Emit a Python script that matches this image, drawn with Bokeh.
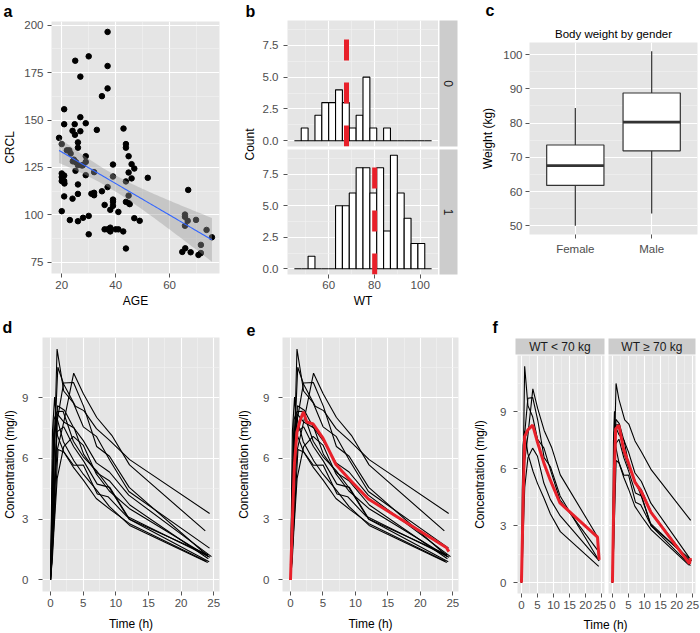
import numpy as np
from bokeh.plotting import figure
from bokeh.layouts import row, column
from bokeh.models import Range1d, FactorRange, FixedTicker, Grid, PrintfTickFormatter
from bokeh.embed import file_html
from bokeh.resources import INLINE
from bokeh.core.properties import value

# ---------------- data ----------------
# panel a: creatinine clearance vs age
AGE = [19.0, 20.0, 20.9, 20.9, 21.9, 22.8, 23.3, 20.0, 20.0, 20.9, 20.0, 20.9, 21.0, 20.9, 20.0,
       23.0, 24.0, 24.0, 24.8, 24.9, 24.1, 24.8, 25.1, 25.0, 26.0, 26.0, 26.0, 26.0, 26.0, 26.0,
       26.9, 26.9, 26.9, 27.9, 27.9, 28.9, 28.9, 28.9, 28.9, 30.0, 30.0, 30.0, 31.0, 32.0, 32.0,
       32.0, 33.0, 34.9, 34.9, 35.9, 35.9, 37.0, 37.0, 37.0, 37.0, 37.0, 38.0, 38.0, 38.0, 39.0,
       39.0, 39.0, 39.0, 39.0, 40.0, 41.0, 41.0, 42.8, 42.9, 43.8, 43.8, 43.8, 43.8, 43.8, 44.8,
       44.8, 44.8, 44.8, 45.9, 45.9, 46.9, 46.9, 48.9, 51.9, 64.7, 65.7, 65.7, 65.7, 65.8, 66.7,
       66.9, 67.8, 69.8, 70.7, 71.6, 71.6, 73.7, 75.7, 25.3, 27.5, 24.5, 45.2]
CRCL = [140.6, 137.3, 155.7, 147.8, 134.0, 134.0, 132.3, 121.8, 119.9, 120.7, 117.8, 117.8, 116.5, 109.7, 101.9,
        97.2, 108.5, 144.3, 147.8, 142.2, 128.2, 128.2, 123.2, 181.3, 138.2, 135.4, 126.2, 116.0, 111.0, 96.6,
        172.9, 151.5, 144.1, 126.2, 98.4, 148.3, 130.9, 127.9, 120.9, 183.6, 99.4, 89.7, 111.1, 122.5, 111.6,
        110.3, 144.8, 162.6, 112.4, 105.2, 92.3, 196.5, 178.5, 166.7, 114.6, 92.3, 102.6, 93.2, 91.2, 126.5,
        120.2, 108.0, 106.8, 104.7, 92.3, 92.3, 101.5, 91.2, 145.5, 137.3, 135.4, 117.6, 106.8, 82.2, 130.9,
        122.3, 110.1, 106.2, 126.7, 119.2, 124.4, 98.2, 96.8, 119.5, 80.4, 100.1, 98.9, 94.2, 82.3, 96.8,
        113.1, 80.2, 97.3, 78.8, 84.1, 79.8, 92.0, 88.1, 127.7, 126.0, 129.1, 105.6]

# panel b: weight histogram by sex
WT_BIN_LEFT = [45, 48, 51, 54, 57, 60, 63, 66, 69, 72, 75, 78, 81, 84, 87, 90, 93, 96, 99, 102]
WT_BIN_RIGHT = [48, 51, 54, 57, 60, 63, 66, 69, 72, 75, 78, 81, 84, 87, 90, 93, 96, 99, 102, 105]
COUNT_SEX0 = [0, 1, 0, 2, 3, 3, 4, 3, 1, 2, 5, 1, 0, 1, 0, 0, 0, 0, 0, 0]
COUNT_SEX1 = [0, 0, 1, 0, 0, 0, 5, 5, 6, 8, 8, 6, 8, 3, 9, 6, 4, 2, 2, 0]
SEX_LABELS = ["0", "1"]
SEX_MEAN_WT = [67.8, 80.1]

# panel c: box plot stats
GENDER = ["Female", "Male"]
BOX_LOW = [50.0, 53.6]
BOX_Q1 = [61.8, 71.9]
BOX_MED = [67.6, 80.3]
BOX_Q3 = [73.6, 88.8]
BOX_HIGH = [84.4, 101.0]

# panels d-f: concentration-time profiles (12 subjects)
SUBJ_WT = [79.6, 72.4, 70.5, 72.7, 54.6, 80.0, 64.6, 70.5, 86.4, 58.2, 65.0, 60.5]
SUBJ_TIME = [
    [0, 0.25, 0.57, 1.12, 2.02, 3.82, 5.10, 7.03, 9.05, 12.12, 24.37],
    [0, 0.27, 0.52, 1.00, 1.92, 3.50, 5.02, 7.03, 9.00, 12.00, 24.30],
    [0, 0.27, 0.58, 1.02, 2.02, 3.62, 5.08, 7.07, 9.00, 12.15, 24.17],
    [0, 0.35, 0.60, 1.07, 2.13, 3.50, 5.02, 7.02, 9.02, 11.98, 24.65],
    [0, 0.30, 0.52, 1.00, 2.02, 3.50, 5.02, 7.02, 9.10, 12.00, 24.35],
    [0, 0.27, 0.58, 1.15, 2.03, 3.57, 5.00, 7.00, 9.22, 12.10, 23.85],
    [0, 0.25, 0.50, 1.02, 2.02, 3.48, 5.00, 6.98, 9.00, 12.05, 24.22],
    [0, 0.25, 0.52, 0.98, 2.02, 3.53, 5.05, 7.15, 9.07, 12.10, 24.12],
    [0, 0.30, 0.63, 1.05, 2.02, 3.53, 5.02, 7.17, 8.80, 11.60, 24.43],
    [0, 0.37, 0.77, 1.02, 2.05, 3.55, 5.05, 7.08, 9.38, 12.10, 23.70],
    [0, 0.25, 0.50, 0.98, 1.98, 3.60, 5.02, 7.03, 9.03, 12.12, 24.08],
    [0, 0.25, 0.50, 1.00, 2.00, 3.52, 5.07, 7.07, 9.03, 12.05, 24.15],
]
SUBJ_CONC = [
    [0.74, 2.84, 6.57, 10.50, 9.66, 8.58, 8.36, 7.47, 6.89, 5.94, 3.28],
    [0.00, 1.72, 7.91, 8.31, 8.33, 6.85, 6.08, 5.40, 4.55, 3.01, 0.90],
    [0.00, 4.40, 6.90, 8.20, 7.80, 7.50, 6.20, 5.30, 4.90, 3.70, 1.05],
    [0.00, 1.89, 4.60, 8.60, 8.38, 7.54, 6.88, 5.78, 5.33, 4.19, 1.15],
    [0.00, 2.02, 5.63, 11.40, 9.33, 8.74, 7.56, 7.09, 5.90, 4.37, 1.57],
    [0.00, 1.29, 3.08, 6.44, 6.32, 5.53, 4.94, 4.02, 3.46, 2.78, 0.92],
    [0.15, 0.85, 2.35, 5.02, 6.58, 7.09, 6.66, 5.25, 4.39, 3.53, 1.15],
    [0.00, 3.05, 3.05, 7.31, 7.56, 6.59, 5.88, 4.73, 4.57, 3.00, 1.25],
    [0.00, 7.37, 9.03, 7.14, 6.33, 5.66, 5.67, 4.24, 4.11, 3.16, 1.12],
    [0.24, 2.89, 5.22, 6.41, 7.83, 10.21, 9.18, 8.02, 7.14, 5.68, 2.42],
    [0.00, 4.86, 7.24, 8.00, 6.81, 5.87, 5.22, 4.45, 3.62, 2.69, 0.86],
    [0.00, 1.25, 3.96, 7.82, 9.72, 9.75, 8.57, 6.59, 6.11, 4.57, 1.17],
]
MEAN_ALL_T = [0, 0.3, 0.6, 1.0, 1.5, 2.0, 2.5, 3.5, 5.0, 7.0, 9.0, 12.0, 24.0, 24.4]
MEAN_ALL_C = [0.0, 3.0, 5.7, 7.3, 7.9, 8.3, 7.8, 7.7, 7.0, 5.7, 5.0, 4.0, 1.6, 1.4]
MEAN_LT70_T = [0, 0.3, 0.6, 1.0, 2.0, 3.5, 5.0, 7.0, 9.0, 12.0, 23.7, 24.2]
MEAN_LT70_C = [0.0, 2.4, 4.9, 7.7, 8.05, 8.3, 7.4, 6.3, 5.4, 4.2, 2.4, 1.2]
MEAN_GE70_T = [0, 0.3, 0.6, 1.0, 2.0, 3.5, 5.0, 7.0, 9.0, 12.0, 24.0, 24.3]
MEAN_GE70_C = [0.0, 3.2, 5.9, 8.1, 8.3, 7.0, 6.3, 5.3, 4.8, 3.7, 1.0, 1.3]
WT_CUT = 70
FACET_LABELS = ["WT < 70 kg", "WT \u2265 70 kg"]
PANEL_LETTERS = ["a", "b", "c", "d", "e", "f"]

# ---------------- style ----------------
FONT = "Liberation Sans"
BG = "#E5E5E5"
MINOR = "#F2F2F2"
TICK = "#555555"
TXT = "#4D4D4D"
STRIP = "#CCCCCC"
RED = "#E8202A"
W_ALL = 700


def base_fig(w, h, l, r, t, b, xr, yr, xloc="below", yloc="left"):
    p = figure(width=w, height=h, x_range=xr, y_range=yr, toolbar_location=None,
               output_backend="svg", min_border_left=l, min_border_right=r,
               min_border_top=t, min_border_bottom=b,
               x_axis_location=xloc, y_axis_location=yloc)
    p.background_fill_color = BG
    p.border_fill_color = "white"
    p.outline_line_color = None
    for ax in p.axis:
        ax.axis_line_color = None
        ax.major_tick_line_color = TICK
        ax.major_tick_out = 4
        ax.major_tick_in = 0
        ax.minor_tick_line_color = None
        ax.major_label_text_font = FONT
        ax.major_label_text_font_size = "11.5px"
        ax.major_label_text_color = TXT
        ax.major_label_standoff = 3
        ax.axis_label_text_font = FONT
        ax.axis_label_text_font_size = "12px"
        ax.axis_label_text_font_style = "normal"
        ax.axis_label_text_color = "black"
        ax.axis_label_standoff = 4
    return p


def set_ticks(p, xt=None, xm=None, yt=None, ym=None):
    for dim, t, m, axes, grids in ((0, xt, xm, p.xaxis, p.xgrid), (1, yt, ym, p.yaxis, p.ygrid)):
        if t is None:
            continue
        tk = FixedTicker(ticks=t, minor_ticks=m)
        for ax in axes:
            ax.ticker = tk
        if len(grids) == 0:
            g = Grid(dimension=dim, ticker=tk)
            p.add_layout(g, "center")
            grids = [g]
        for g in grids:
            g.ticker = tk
    for g in p.grid:
        g.grid_line_color = "white"
        g.grid_line_width = 1.1
        g.minor_grid_line_color = MINOR
        g.minor_grid_line_width = 0.6


def blank_fig(w, h, l=0, r=0, t=0, b=0, bg="white", xr=(0, 1), yr=(0, 1)):
    p = figure(width=w, height=h, x_range=Range1d(*xr), y_range=Range1d(*yr),
               toolbar_location=None, output_backend="svg",
               min_border_left=l, min_border_right=r, min_border_top=t, min_border_bottom=b,
               x_axis_location=None, y_axis_location=None)
    p.grid.visible = False
    p.outline_line_color = None
    p.background_fill_color = bg
    p.border_fill_color = "white"
    return p


def add_text(p, x, y, txt, size="12px", angle=0.0, align="center", baseline="middle",
             style="normal", color="black"):
    p.text(x=[x], y=[y], text=[txt], angle=angle, text_align=align, text_baseline=baseline,
           text_font=value(FONT), text_font_size=size, text_font_style=style, text_color=color)


def strip(w, h, l, r, t, b, txt, angle=0.0):
    p = blank_fig(w, h, l, r, t, b, bg=STRIP)
    add_text(p, 0.5, 0.5, txt, angle=angle, color="#1A1A1A")
    return p


def letters_fig(h, items):
    p = blank_fig(W_ALL, h, xr=(0, W_ALL), yr=(0, h))
    for txt, x, y in items:
        add_text(p, x, y, txt, size="16px", align="left", baseline="bottom", style="bold")
    return p


# ---------------- row 1 ----------------
head1 = letters_fig(20, [(PANEL_LETTERS[0], 3, 1), (PANEL_LETTERS[1], 245, 1), (PANEL_LETTERS[2], 485, 2)])

# panel a
pa = base_fig(236, 290, 51, 17, 1, 35, Range1d(16.2, 78.5), Range1d(69, 202))
set_ticks(pa, [20, 40, 60], [10, 30, 50, 70],
          [75, 100, 125, 150, 175, 200], [62.5, 87.5, 112.5, 137.5, 162.5, 187.5])
for ax in pa.yaxis:
    ax.major_label_standoff = 4
pa.xaxis.axis_label = "AGE"
pa.yaxis.axis_label = "CRCL"
pa.xaxis.axis_label_standoff = 2
pa.scatter(AGE, CRCL, size=5.5, color="black")
ax_ = np.array(AGE)
cy_ = np.array(CRCL)
n_ = len(ax_)
b1, b0 = np.polyfit(ax_, cy_, 1)
xs = np.linspace(ax_.min(), ax_.max(), 80)
fit = b0 + b1 * xs
res = cy_ - (b0 + b1 * ax_)
s_ = np.sqrt(np.sum(res ** 2) / (n_ - 2))
sxx = np.sum((ax_ - ax_.mean()) ** 2)
se = s_ * np.sqrt(1.0 / n_ + (xs - ax_.mean()) ** 2 / sxx)
tq = 1.985
pa.varea(x=xs, y1=fit - tq * se, y2=fit + tq * se, fill_color="#999999", fill_alpha=0.4)
pa.line(xs, fit, line_color="#3366FF", line_width=1.1)

# panel b
pcount = blank_fig(23, 290, xr=(0, 23), yr=(0, 290))
add_text(pcount, 13, 166, "Count", angle=np.pi / 2)

bxr = Range1d(42, 108)
pbt = base_fig(179, 128, 26, 0, 0, 2, bxr, Range1d(-0.45, 9.45), xloc=None)
pbb = base_fig(179, 162, 26, 0, 1, 33, bxr, Range1d(-0.45, 9.45))
for p in (pbt, pbb):
    set_ticks(p, [60, 80, 100], [50, 70, 90], [0, 2.5, 5, 7.5], [1.25, 3.75, 6.25, 8.75])
    for ax in p.yaxis:
        ax.formatter = PrintfTickFormatter(format="%.1f")
        ax.major_label_standoff = 5
pbb.xaxis.axis_label = "WT"
pbb.xaxis.major_label_standoff = 2
pbb.xaxis.axis_label_standoff = 2
for p, counts, m in ((pbt, COUNT_SEX0, SEX_MEAN_WT[0]), (pbb, COUNT_SEX1, SEX_MEAN_WT[1])):
    p.quad(left=WT_BIN_LEFT, right=WT_BIN_RIGHT, bottom=0, top=counts,
           fill_color="white", line_color="black", line_width=1.1)
    p.segment(x0=[m], y0=[p.y_range.start], x1=[m], y1=[p.y_range.end],
              line_color=RED, line_width=5, line_dash="21 22")
st_t = strip(40, 128, 1, 21, 0, 2, SEX_LABELS[0], angle=-np.pi / 2)
st_b = strip(40, 162, 1, 21, 1, 33, SEX_LABELS[1], angle=-np.pi / 2)

# panel c
ctitle = blank_fig(222, 22, 50, 3, 0, 0, xr=(0, 169), yr=(0, 22))
add_text(ctitle, 84.5, 9, "Body weight by gender", size="11.5px")
pc = base_fig(222, 268, 50, 3, 0, 76,
              FactorRange(factors=GENDER, range_padding=0.1, range_padding_units="absolute"),
              Range1d(47.45, 103.55))
set_ticks(pc, None, None, [50, 60, 70, 80, 90, 100], [55, 65, 75, 85, 95])
pc.xgrid.grid_line_color = "white"
pc.xgrid.grid_line_width = 1.1
pc.yaxis.axis_label = "Weight (kg)"
pc.yaxis.axis_label_standoff = 5
pc.xaxis.major_label_standoff = 4
pc.segment(x0=GENDER, y0=BOX_LOW, x1=GENDER, y1=BOX_Q1, line_color="#333333", line_width=1.2)
pc.segment(x0=GENDER, y0=BOX_Q3, x1=GENDER, y1=BOX_HIGH, line_color="#333333", line_width=1.2)
pc.vbar(x=GENDER, width=0.75, bottom=BOX_Q1, top=BOX_Q3, fill_color="white",
        line_color="#333333", line_width=1.2)
pc.rect(x=GENDER, y=BOX_MED, width=0.75, height=2.8, height_units="screen",
        fill_color="#333333", line_color=None)

# ---------------- row 2 ----------------
head2 = letters_fig(27, [(PANEL_LETTERS[3], 2, 2), (PANEL_LETTERS[4], 246, 2), (PANEL_LETTERS[5], 492, 2)])

TX = [0, 5, 10, 15, 20, 25]
TXM = [2.5, 7.5, 12.5, 17.5, 22.5]
CY = [0, 3, 6, 9]
CYM = [1.5, 4.5, 7.5, 10.5]


def conc_fig(w, h, l, r, t, b, yloc="left", label_x=True, std=8, lstd=2):
    p = base_fig(w, h, l, r, t, b, Range1d(-1.23, 25.88), Range1d(-0.57, 11.97), yloc=yloc)
    set_ticks(p, TX, TXM, CY, CYM)
    for ax in p.yaxis:
        ax.major_label_standoff = std
        ax.axis_label = "Concentration (mg/l)"
        ax.axis_label_standoff = lstd
    p.xaxis.major_label_standoff = 3
    if label_x:
        p.xaxis.axis_label = "Time (h)"
        p.xaxis.axis_label_standoff = 7
    return p


pdd = conc_fig(234, 296, 36, 15, 0, 40, std=10, lstd=2)
pdd.multi_line(xs=SUBJ_TIME, ys=SUBJ_CONC, line_color="black", line_width=1.1)

pe = conc_fig(236, 296, 42, 12, 0, 40, std=9, lstd=9)
pe.multi_line(xs=SUBJ_TIME, ys=SUBJ_CONC, line_color="black", line_width=1.1)
pe.line(MEAN_ALL_T, MEAN_ALL_C, line_color=RED, line_width=3)

fl = conc_fig(136, 258, 45, 2, 0, 20, label_x=False, std=7, lstd=10)
fr = conc_fig(94, 258, 2, 5, 0, 20, yloc=None, label_x=False)
lt_t = [t for t, w in zip(SUBJ_TIME, SUBJ_WT) if w < WT_CUT]
lt_c = [c for c, w in zip(SUBJ_CONC, SUBJ_WT) if w < WT_CUT]
ge_t = [t for t, w in zip(SUBJ_TIME, SUBJ_WT) if w >= WT_CUT]
ge_c = [c for c, w in zip(SUBJ_CONC, SUBJ_WT) if w >= WT_CUT]
fl.multi_line(xs=lt_t, ys=lt_c, line_color="black", line_width=1.1)
fl.line(MEAN_LT70_T, MEAN_LT70_C, line_color=RED, line_width=3)
fr.multi_line(xs=ge_t, ys=ge_c, line_color="black", line_width=1.1)
fr.line(MEAN_GE70_T, MEAN_GE70_C, line_color=RED, line_width=3)
sl = strip(136, 18, 45, 2, 1, 1, FACET_LABELS[0])
sr = strip(94, 18, 2, 5, 1, 1, FACET_LABELS[1])
labf = blank_fig(230, 20, xr=(0, 230), yr=(0, 20))
add_text(labf, 135, 9, "Time (h)")

# ---------------- layout ----------------
row1 = row(column(pa), column(pcount), column(row(pbt, st_t), row(pbb, st_b)), column(ctitle, pc))
row2 = row(column(pdd), column(pe), column(row(sl, sr), row(fl, fr), labf))
layout = column(head1, row1, head2, row2)

open("out.html", "w").write(file_html(layout, INLINE))
